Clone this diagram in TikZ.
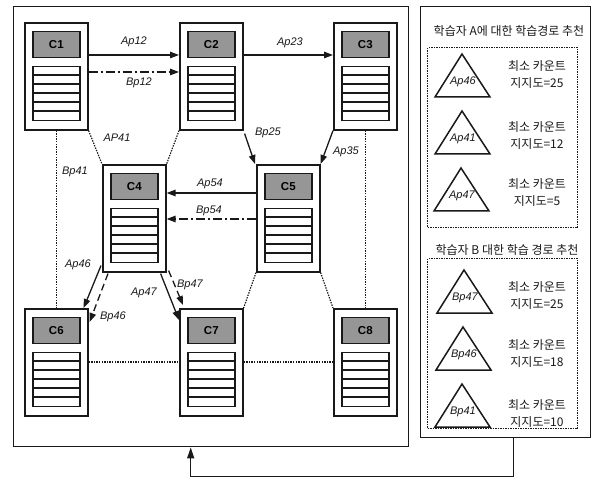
\documentclass[tikz,border=0pt]{standalone}
\usepackage{fontspec}
\setmainfont{Liberation Sans}
\newfontfamily\krfont{Noto Sans CJK KR}
\usetikzlibrary{arrows.meta,calc}
\definecolor{ink}{RGB}{25,25,25}
\definecolor{headgray}{RGB}{150,150,150}
\begin{document}
\begin{tikzpicture}[x=1pt,y=-1pt,line join=miter,
  box/.style={draw=ink,line width=1.6pt,minimum width=63pt,minimum height=107pt,anchor=north west,inner sep=0pt},
  head/.style={draw=ink,line width=1.4pt,fill=headgray,minimum width=47pt,minimum height=26pt,anchor=north,inner sep=0pt,font=\bfseries\fontsize{11.5}{13}\selectfont},
  lst/.style={draw=ink,line width=1.4pt,minimum width=47pt,minimum height=54pt,anchor=north,inner sep=0pt},
  lab/.style={font=\itshape\fontsize{11}{13}\selectfont,inner sep=0pt,text=ink},
  arr/.style={draw=ink,line width=1.3pt,-{Triangle[length=9pt,width=6.5pt]}},
  dotl/.style={draw=ink,line width=1.2pt,dash pattern=on 1.4pt off 1.2pt},
  dashdot/.style={dash pattern=on 9pt off 3pt on 2pt off 3pt},
  dashl/.style={dash pattern=on 7pt off 4pt},
  kr/.style={font=\krfont\fontsize{12}{17}\selectfont,text=ink,inner sep=0pt,align=center},
  frame/.style={draw=ink,line width=1.4pt,anchor=north west,inner sep=0pt},
  dbox/.style={draw=ink,line width=1.2pt,dash pattern=on 1.5pt off 1pt,anchor=north west,inner sep=0pt},
  tri/.style={draw=ink,line width=1.5pt}
]
\useasboundingbox (0,0) rectangle (594,478);
% frames
\node[frame,minimum width=395pt,minimum height=440pt] (left) at (13,6) {};
\node[frame,minimum width=170pt,minimum height=431pt] (right) at (420,6) {};
\draw[arr,-{Triangle[length=11pt,width=7pt]}] ($(right.south)+(8,0)$) -- ++(0,38) -| ($(left.south)+(-20.5,0)$);
% C nodes
\foreach \n/\px/\py in {1/24/22,2/179/22,3/333/22,4/102/164,5/256/164,6/24/308,7/179/308,8/333/308}{
  \node[box] (C\n) at (\px,\py) {};
  \node[head] (C\n-h) at ($(C\n.north)+(0,9)$) {C\n};
  \node[lst] (C\n-l) at ($(C\n.north)+(0,44)$) {};
  \foreach \k in {1,...,5}
    \draw[ink,line width=1.2pt] ($(C\n-l.north west)+(0,9*\k)$) -- ($(C\n-l.north east)+(0,9*\k)$);
}
% arrows
\draw[arr] ($(C1.north east)+(0,33)$) -- ($(C2.north west)+(0,33)$);
\draw[arr,dashdot] ($(C1.north east)+(0,50)$) -- ($(C2.north west)+(0,50)$);
\draw[arr] ($(C2.north east)+(0,33)$) -- ($(C3.north west)+(0,33)$);
\draw[arr] ($(C2.south east)+(1,3)$) -- ($(C5.north west)+(-1,0)$);
\draw[arr] (C3.south west) -- ($(C5.north east)+(0,0)$);
\draw[arr] ($(C5.north west)+(0,29)$) -- ($(C4.north east)+(0,29)$);
\draw[arr,dashdot] ($(C5.north west)+(0,55)$) -- ($(C4.north east)+(0,55)$);
\draw[arr] ($(C4.south west)+(-1,-7)$) -- ($(C6.north east)+(-5,0)$);
\draw[arr,dashl] ($(C4.south west)+(6,1)$) -- ($(C6.north east)+(1,14)$);
\draw[arr] ($(C4.south east)+(-6,1)$) -- ($(C7.north west)+(0,12)$);
\draw[arr,dashl] ($(C4.south east)+(2,-2)$) -- ($(C7.north west)+(4,-3)$);
% dotted links
\draw[dotl] (C1.south east) -- (C4.north west);
\draw[dotl] (C2.south west) -- (C4.north east);
\draw[dotl] (C1.south) -- (C6.north);
\draw[dotl] (C3.south) -- (C8.north);
\draw[dotl] (C5.south west) -- (C7.north east);
\draw[dotl] (C5.south east) -- (C8.north west);
\draw[dotl] ($(C6.north east)+(0,54)$) -- ($(C7.north west)+(0,54)$);
\draw[dotl] ($(C7.north east)+(0,54)$) -- ($(C8.north west)+(0,54)$);
% labels
\node[lab] (lAp12) at (134,42) {Ap12};
\node[lab] (lBp12) at (139,83) {Bp12};
\node[lab] (lAp23) at (290,43) {Ap23};
\node[lab] (lBp25) at (268,133) {Bp25};
\node[lab] (lAp35) at (346,152) {Ap35};
\node[lab] (lAp54) at (210,184) {Ap54};
\node[lab] (lBp54) at (209,211) {Bp54};
\node[lab] (lAP41) at (117,138) {AP41};
\node[lab] (lBp41) at (75,172) {Bp41};
\node[lab] (lAp46) at (78,265) {Ap46};
\node[lab] (lBp46) at (113,317) {Bp46};
\node[lab] (lAp47) at (144,293) {Ap47};
\node[lab] (lBp47) at (190,285) {Bp47};
% right panel
\node[kr] (tA) at (509,31) {학습자 A에 대한 학습경로 추천};
\node[dbox,minimum width=150pt,minimum height=180pt] (boxA) at (427,47) {};
\node[kr] (tB) at (507,250) {학습자 B 대한 학습 경로 추천};
\node[dbox,minimum width=150pt,minimum height=170pt] (boxB) at (427,258) {};
\foreach \i/\ax/\ay/\t/\v/\ty in {1/462/54/Ap46/25/75, 2/462/111/Ap41/12/136, 3/461/168/Ap47/5/193, 4/464/270/Bp47/25/296, 5/463/327/Bp46/18/354, 6/462/384/Bp41/10/414}{
  \draw[tri] (\ax,\ay) -- (\ax-27,\ay+43) -- (\ax+28,\ay+43) -- cycle;
  \node[lab] (tl\i) at (\ax+1,\ay+28) {\t};
  \node[kr] (tx\i) at (537,\ty) {최소 카운트\\지지도=\v};
}
\end{tikzpicture}
\end{document}
